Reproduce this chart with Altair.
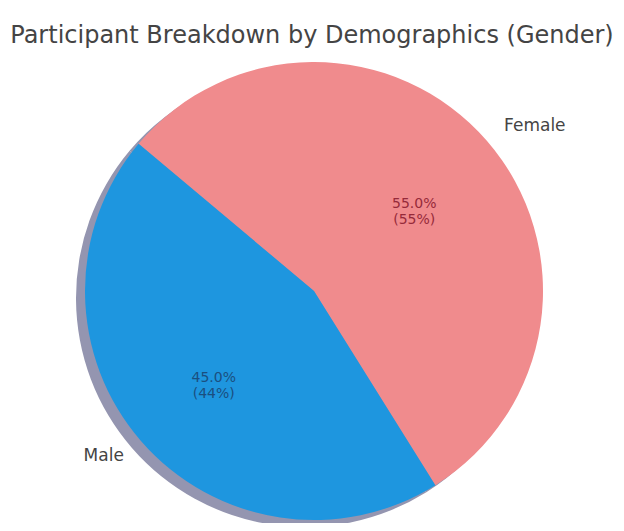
import math
import altair as alt
import pandas as pd

# ---- data ----
genders = ["Female", "Male"]
shares = [55.0, 45.0]          # percentage of the pie
counts = [55, 44]              # value shown in parentheses
slice_colors = ["#f08b8d", "#1e96df"]
pct_text_colors = ["#962a3a", "#1b4f80"]
title_text = "Participant Breakdown by Demographics (Gender)"

pct_labels = [f"{s:.1f}%\n({c}%)" for s, c in zip(shares, counts)]
df = pd.DataFrame({
    "gender": genders,
    "share": shares,
    "order": list(range(len(genders))),
    "pct": pct_labels,
})

start = math.radians(310)
theta_scale = alt.Scale(range=[start, start + 2 * math.pi])
CX, CY, R = 306, 233, 229

base = alt.Chart(df).encode(
    theta=alt.Theta("share:Q", stack=True, scale=theta_scale),
    order=alt.Order("order:Q"),
)

shadow = base.mark_arc(radius=R, color="#9495b0").encode(
    x=alt.value(CX - 9), y=alt.value(CY + 7)
)

pie = base.mark_arc(radius=R).encode(
    color=alt.Color("gender:N", scale=alt.Scale(domain=genders, range=slice_colors), legend=None),
    x=alt.value(CX), y=alt.value(CY),
)

pct = base.mark_text(radius=R * 0.58, lineBreak="\n", fontSize=14, font="DejaVu Sans",
                     lineHeight=16).encode(
    text="pct:N",
    color=alt.condition(alt.datum.gender == genders[0],
                        alt.value(pct_text_colors[0]), alt.value(pct_text_colors[1])),
    x=alt.value(CX), y=alt.value(CY),
)

lab_right = base.transform_calculate(
    lab=f"datum.gender == '{genders[0]}' ? datum.gender : ''"
).mark_text(radius=R * 1.1, align="left", baseline="middle", fontSize=17,
            font="DejaVu Sans", color="#444444").encode(
    text="lab:N", x=alt.value(CX), y=alt.value(CY)
)
lab_left = base.transform_calculate(
    lab=f"datum.gender == '{genders[1]}' ? datum.gender : ''"
).mark_text(radius=R * 1.1, align="right", baseline="middle", fontSize=17,
            font="DejaVu Sans", color="#444444").encode(
    text="lab:N", x=alt.value(CX), y=alt.value(CY)
)

chart = alt.layer(shadow, pie, pct, lab_right, lab_left).properties(
    width=608,
    height=465,
    autosize="none",
    padding={"top": 50, "left": 0, "right": 0, "bottom": 0},
    title=alt.TitleParams(title_text, fontSize=24, font="DejaVu Sans", color="#444444",
                          fontWeight="normal", anchor="middle", offset=10),
).configure_view(stroke=None)

chart.save("out.html", embed_options={"renderer": "svg", "actions": False})
